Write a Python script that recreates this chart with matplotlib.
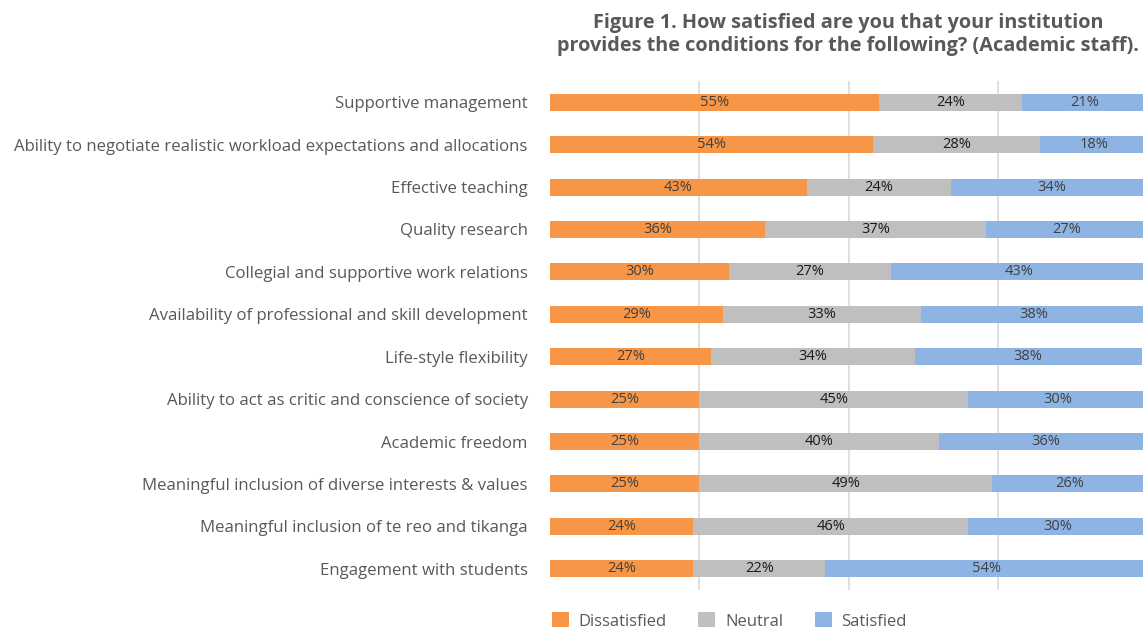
import numpy as np
import matplotlib.pyplot as plt
from matplotlib.patches import Patch

plt.rcParams['font.family'] = ['Open Sans', 'DejaVu Sans']

items = ['Supportive management',
         'Ability to negotiate realistic workload expectations and allocations',
         'Effective teaching',
         'Quality research',
         'Collegial and supportive work relations',
         'Availability of professional and skill development',
         'Life-style flexibility',
         'Ability to act as critic and conscience of society',
         'Academic freedom',
         'Meaningful inclusion of diverse interests & values',
         'Meaningful inclusion of te reo and tikanga',
         'Engagement with students']
dissatisfied = [55, 54, 43, 36, 30, 29, 27, 25, 25, 25, 24, 24]
neutral      = [24, 28, 24, 37, 27, 33, 34, 45, 40, 49, 46, 22]
satisfied    = [21, 18, 34, 27, 43, 38, 38, 30, 36, 26, 30, 54]

series = [('Dissatisfied', dissatisfied, '#F79646', '#404040'),
          ('Neutral', neutral, '#BFBFBF', '#1A1A1A'),
          ('Satisfied', satisfied, '#8EB4E3', '#404040')]

fig = plt.figure(figsize=(11.43, 6.3), dpi=100)
ax = fig.add_axes([550/1143, 1-590/630, 593/1143, 509/630])

y = np.arange(len(items))
left = np.zeros(len(items))
for name, vals, col, tcol in series:
    vals = np.array(vals, dtype=float)
    ax.barh(y, vals, left=left, height=0.4, color=col, label=name, zorder=2)
    for yi, l, v in zip(y, left, vals):
        ax.text(l + v/2, yi, '%d%%' % v, ha='center', va='center',
                fontsize=10.5, color=tcol, zorder=3)
    left += vals

ax.set_xlim(0, 99.2)
ax.set_ylim(len(items) - 0.5, -0.5)
ax.set_yticks(y)
ax.set_yticklabels(items, fontsize=12.1, color='#595959')
ax.tick_params(axis='y', length=0, pad=16)
ax.set_xticks([25, 50, 75])
ax.tick_params(axis='x', length=0, labelbottom=False)
ax.grid(axis='x', color='#D9D9D9', linewidth=1.2, zorder=0)
for s in ax.spines.values():
    s.set_visible(False)

fig.text(848/1143, 1-13/630,
         'Figure 1. How satisfied are you that your institution\nprovides the conditions for the following? (Academic staff).',
         ha='center', va='top', fontsize=14.3, fontweight='bold', color='#595959',
         linespacing=1.2)

handles = [Patch(facecolor=c, edgecolor='none', label=n) for n, _, c, _ in series]
fig.legend(handles=handles, loc='center left', bbox_to_anchor=(537/1143, 1-621/630),
           ncol=3, frameon=False, fontsize=12, labelcolor='#595959',
           handlelength=1.0, handleheight=1.0, handletextpad=0.6, columnspacing=1.9)

fig.savefig('out.png', dpi=100)
